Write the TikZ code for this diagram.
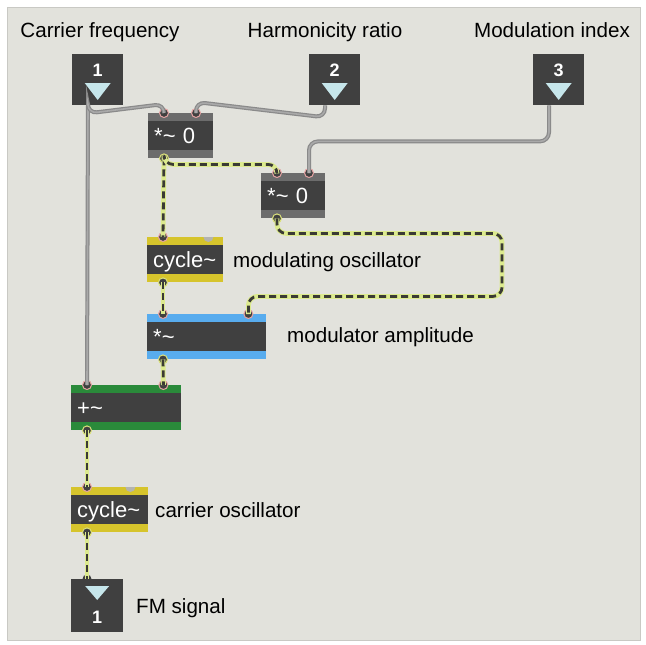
\documentclass[tikz,border=0pt]{standalone}
\usepackage{fontspec}
\setmainfont{Liberation Sans}
\usepackage{tikz}
\usetikzlibrary{positioning}

\definecolor{patchbg}{HTML}{E2E2DC}
\definecolor{patchrim}{HTML}{C9C9C4}
\definecolor{objdark}{HTML}{404040}
\definecolor{objgray}{HTML}{6C6C6C}
\definecolor{objyellow}{HTML}{D6C42C}
\definecolor{objblue}{HTML}{58ACEE}
\definecolor{objgreen}{HTML}{2A8A3A}
\definecolor{tri}{HTML}{C6E6EB}
\definecolor{pinkring}{HTML}{E6A4A4}
\definecolor{yellowring}{HTML}{DCE27C}
\definecolor{knob}{HTML}{B4B4B0}
\definecolor{wiregray}{HTML}{8A8A8A}
\definecolor{wirelight}{HTML}{A9A9A9}
\definecolor{sigyellow}{HTML}{DCEA8E}
\definecolor{sigdark}{HTML}{3A3A34}

\newcommand\labelfont{\fontsize{20.6}{24}\selectfont}
\newcommand\objfont{\fontsize{22}{24}\selectfont}

\tikzset{
	obj/.style 2 args={fill=#1, text=white, font=\objfont, inner xsep=6pt, inner ysep=0pt,
		text width=#2, align=left, text height=16pt, text depth=0pt, minimum height=45pt, anchor=north west,
		path picture={\fill[objdark] ([yshift=-8pt]path picture bounding box.north west) rectangle ([yshift=8pt]path picture bounding box.south east);}},
	numbox/.style={fill=objdark, minimum width=51pt, minimum height=51pt, inner sep=0pt, anchor=north west},
	numtxt/.style={text=white, font=\bfseries\fontsize{18}{18}\selectfont, inner sep=0pt},
	inlet/.style={circle, fill=objdark, draw=pinkring, line width=1pt, minimum size=9pt, inner sep=0pt},
	outlet/.style={inlet, draw=yellowring},
	ctl/.style={draw=wiregray, line width=4pt, rounded corners=9pt, postaction={draw=wirelight, line width=1.6pt}},
	sig/.style={draw=sigyellow, line width=4.8pt, rounded corners=9pt, postaction={draw=sigdark, line width=2.8pt, dash pattern=on 7pt off 4pt}},
	caption/.style={anchor=base west, font=\labelfont, text=black, inner sep=0pt},
	heading/.style={anchor=base, font=\labelfont, text=black, inner sep=0pt}
}

\begin{document}
\begin{tikzpicture}[x=1pt,y=-1pt]
	\useasboundingbox (0,0) rectangle (646,645);
	\fill[white] (0,0) rectangle (646,645);
	\draw[patchrim, fill=patchbg, line width=0.8pt] (7,7) rectangle (640,640);

	\node[heading] (carlbl) at (100,37) {Carrier frequency};
	\node[heading] (harmlbl) at (325,37) {Harmonicity ratio};
	\node[heading] (modlbl) at (552,37) {Modulation index};

	\foreach \name/\x/\n in {car/72/1, harm/309/2, mod/533/3}{
		\node[numbox] (\name) at (\x,54) {};
		\node[numtxt] (\name num) at ([yshift=-16pt]\name.north) {\n};
		\fill[tri] ([xshift=-13pt,yshift=-29pt]\name.north) -- ([xshift=13pt,yshift=-29pt]\name.north) -- ([yshift=-46pt]\name.north) -- cycle;
		\coordinate (\name out) at ([xshift=16pt]\name.south west);
	}

	\node[obj={objgray}{53pt}] (mulA) at (148,113) {*\char`\~{} 0};
	\node[obj={objgray}{52pt}] (mulB) at (261,173) {*\char`\~{} 0};
	\node[obj={objyellow}{64pt}] (cycmod) at (147,237) {cycle\char`\~};
	\node[obj={objblue}{107pt}] (amp) at (147,314) {*\char`\~};
	\node[obj={objgreen}{98pt}] (add) at (71,385) {+\char`\~};
	\node[obj={objyellow}{65pt}] (carcyc) at (71,487) {cycle\char`\~};

	\node[numbox, minimum width=52pt, minimum height=53pt] (fm) at (71,579) {};
	\fill[tri] ([xshift=-12pt,yshift=-7pt]fm.north) -- ([xshift=12pt,yshift=-7pt]fm.north) -- ([yshift=-21pt]fm.north) -- cycle;
	\node[numtxt] (fmnum) at ([yshift=-38pt]fm.north) {1};

	\fill[knob] ([xshift=-20pt]cycmod.north east) arc[start angle=180, end angle=360, radius=5pt];
	\fill[knob] ([xshift=-23pt]carcyc.north east) arc[start angle=180, end angle=360, radius=5pt];

	\node[inlet] (mulAin1) at ([xshift=16pt]mulA.north west) {};
	\node[inlet] (mulAin2) at ([xshift=48pt]mulA.north west) {};
	\node[outlet] (mulAout) at ([xshift=16pt]mulA.south west) {};
	\node[inlet] (mulBin1) at ([xshift=16pt]mulB.north west) {};
	\node[inlet] (mulBin2) at ([xshift=48pt]mulB.north west) {};
	\node[outlet] (mulBout) at ([xshift=16pt]mulB.south west) {};
	\node[inlet] (cycmodin) at ([xshift=16pt]cycmod.north west) {};
	\node[outlet] (cycmodout) at ([xshift=16pt]cycmod.south west) {};
	\node[inlet] (ampin1) at ([xshift=16pt]amp.north west) {};
	\node[inlet] (ampin2) at ([xshift=-18pt]amp.north east) {};
	\node[outlet] (ampout) at ([xshift=16pt]amp.south west) {};
	\node[inlet] (addin1) at ([xshift=16pt]add.north west) {};
	\node[inlet] (addin2) at ([xshift=-18pt]add.north east) {};
	\node[outlet] (addout) at ([xshift=16pt]add.south west) {};
	\node[inlet] (carcycin) at ([xshift=16pt]carcyc.north west) {};
	\node[outlet] (carcycout) at ([xshift=16pt]carcyc.south west) {};
	\node[inlet, draw=none] (fmin) at ([xshift=16pt]fm.north west) {};

	\draw[ctl] (carout) -- (addin1.center);
	\draw[ctl] (carout) -- ++(0,8) -- ([yshift=9pt]mulAin1.center) -- (mulAin1.center);
	\draw[ctl] (harmout) -- ++(0,12) -- ([yshift=11pt]mulAin2.center) -- (mulAin2.center);
	\draw[ctl] (modout) -- ++(0,36) -| (mulBin2.center);

	\draw[sig] (mulAout.center) -- (cycmodin.center);
	\draw[sig] (mulAout.center) -- ++(0,6) -| (mulBin1.center);
	\draw[sig] (mulBout.center) -- ++(0,15) -- ++(225,0) -- ++(0,63) -| (ampin2.center);
	\draw[sig] (cycmodout.center) -- (ampin1.center);
	\draw[sig] (ampout.center) -- (addin2.center);
	\draw[sig] (addout.center) -- (carcycin.center);
	\draw[sig] (carcycout.center) -- (fmin.center);

	\node[caption] (cycmodlbl) at (233,267) {modulating oscillator};
	\node[caption] (amplbl) at (287,342) {modulator amplitude};
	\node[caption] (carcyclbl) at (155,517) {carrier oscillator};
	\node[caption] (fmlbl) at (136,613) {FM signal};
\end{tikzpicture}
\end{document}
